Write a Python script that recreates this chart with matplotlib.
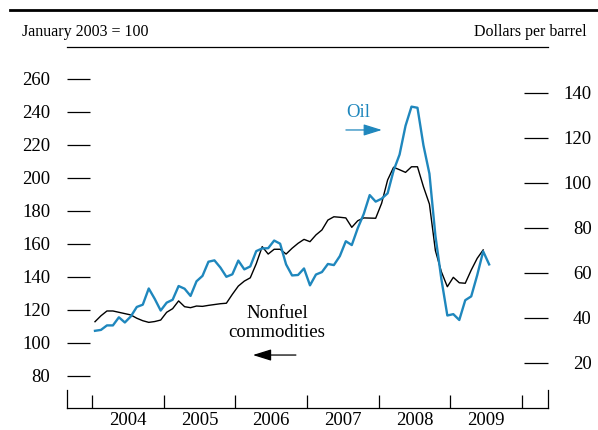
import matplotlib
matplotlib.use("Agg")
import matplotlib.pyplot as plt
from matplotlib.lines import Line2D
import numpy as np

plt.rcParams['font.family'] = ['Liberation Serif', 'DejaVu Serif']

# ---- data (monthly, Jan 2004 onward) ----
oil = [34.3, 34.7, 36.7, 36.7, 40.3, 38.0, 40.7, 44.9, 45.9, 53.1, 48.5, 43.3,
       46.8, 48.1, 54.2, 53.0, 49.8, 56.3, 58.7, 65.0, 65.6, 62.4, 58.3, 59.4,
       65.5, 61.6, 62.9, 69.7, 70.9, 71.0, 74.4, 73.0, 63.8, 58.9, 59.1, 62.0,
       54.5, 59.3, 60.4, 64.0, 63.5, 67.5, 74.1, 72.4, 79.9, 86.2, 94.6, 91.7,
       93.0, 95.4, 105.5, 112.6, 125.4, 133.9, 133.4, 116.7, 104.1, 76.6, 57.3, 41.1,
       41.7, 39.1, 47.9, 49.6, 59.0, 69.6, 63.8]
nonfuel = [112.9, 116.5, 119.4, 119.4, 118.6, 117.8, 117.0, 115.0, 113.5, 112.5, 113.0, 113.9,
           118.6, 120.8, 125.5, 122.0, 121.4, 122.4, 122.2, 122.8, 123.3, 123.8, 124.1, 129.5,
           134.5, 137.5, 139.5, 148.0, 158.4, 153.9, 156.8, 156.8, 153.9, 157.4, 160.4, 162.8,
           161.4, 165.5, 168.5, 174.5, 176.5, 176.2, 175.8, 170.1, 174.1, 175.8, 175.7, 175.6,
           184.7, 198.8, 206.5, 205.0, 203.4, 206.8, 206.8, 194.7, 184.2, 156.0, 143.2, 134.1,
           139.8, 136.5, 136.2, 144.2, 151.3, 156.4]
start_year = 2004
years = [2004, 2005, 2006, 2007, 2008, 2009]
left_ticks = [80, 100, 120, 140, 160, 180, 200, 220, 240, 260]
right_ticks = [20, 40, 60, 80, 100, 120, 140]

t_oil = start_year + (np.arange(len(oil)) + 0.5) / 12
t_nf = start_year + (np.arange(len(nonfuel)) + 0.5) / 12

BLUE = '#1f87bd'
W, H = 598, 430
fig = plt.figure(figsize=(W / 100, H / 100), dpi=100)
ax = fig.add_axes([67 / W, (H - 408) / H, 481 / W, 361 / H])
ax2 = ax.twinx()

ax.plot(t_nf, nonfuel, color='black', lw=1.0, zorder=3)
ax2.plot(t_oil, oil, color=BLUE, lw=1.7, zorder=3)

xlo, xhi = 2003.651, 2010.363
ax.set_xlim(xlo, xhi)
ylo_l, yhi_l = 60.6, 60.6 + 361 * 20 / 33
ax.set_ylim(ylo_l, yhi_l)
ax2.set_ylim(0, 160.4)

# spines
for a in (ax, ax2):
    for s in a.spines.values():
        s.set_linewidth(0.9)
ax.spines['left'].set_bounds(ylo_l, ylo_l + 18 * 20 / 33)
ax2.spines['left'].set_visible(False)
ax2.spines['right'].set_bounds(0, 18 * 20 / 45)
ax2.spines['top'].set_visible(False)
ax2.spines['bottom'].set_visible(False)
ax.spines['right'].set_visible(False)

# y ticks
ax.set_yticks(left_ticks)
ax.set_yticklabels([str(v) for v in left_ticks])
ax.tick_params(axis='y', direction='in', length=16.6, width=0.9, pad=12.2,
               labelsize=13.5, left=True)
ax2.set_yticks(right_ticks)
ax2.set_yticklabels([str(v) for v in right_ticks])
ax2.tick_params(axis='y', direction='in', length=17.2, width=0.9, pad=31.5,
                labelsize=13.5)
for lab in ax2.get_yticklabels():
    lab.set_horizontalalignment('right')

# x ticks
ax.set_xticks(list(range(2004, 2011)))
ax.set_xticklabels([])
ax.set_xticks([y + 0.5 for y in years], minor=True)
ax.set_xticklabels([str(y) for y in years], minor=True)
ax.tick_params(axis='x', which='major', direction='in', length=9.4, width=0.9)
ax.tick_params(axis='x', which='minor', length=0, pad=3.2, labelsize=13.5)

# annotations
ax.text(2006.58, 112.1, 'Nonfuel\ncommodities', ha='center', va='center',
        fontsize=13.5, linespacing=1.15)
ax.annotate('', xy=(2006.245, 92.7), xytext=(2006.845, 92.7),
            arrowprops=dict(arrowstyle='-|>,head_length=0.8,head_width=0.25',
                            color='black', lw=0.9, mutation_scale=14,
                            shrinkA=0, shrinkB=0))
ax.text(2007.71, 239.4, 'Oil', ha='center', va='center', fontsize=13.5, color=BLUE)
ax.annotate('', xy=(2008.045, 229.1), xytext=(2007.543, 229.1),
            arrowprops=dict(arrowstyle='-|>,head_length=0.8,head_width=0.25',
                            color=BLUE, lw=0.9, mutation_scale=14,
                            shrinkA=0, shrinkB=0))

# header
fig.add_artist(Line2D([10 / W, 1.0], [(H - 10) / H] * 2, color='black', lw=2.0))
fig.text(22 / W, (H - 32) / H, 'January 2003 = 100', ha='left', va='center', fontsize=11.5)
fig.text(587 / W, (H - 32) / H, 'Dollars per barrel', ha='right', va='center', fontsize=11.5)

fig.savefig('out.png', dpi=100)
